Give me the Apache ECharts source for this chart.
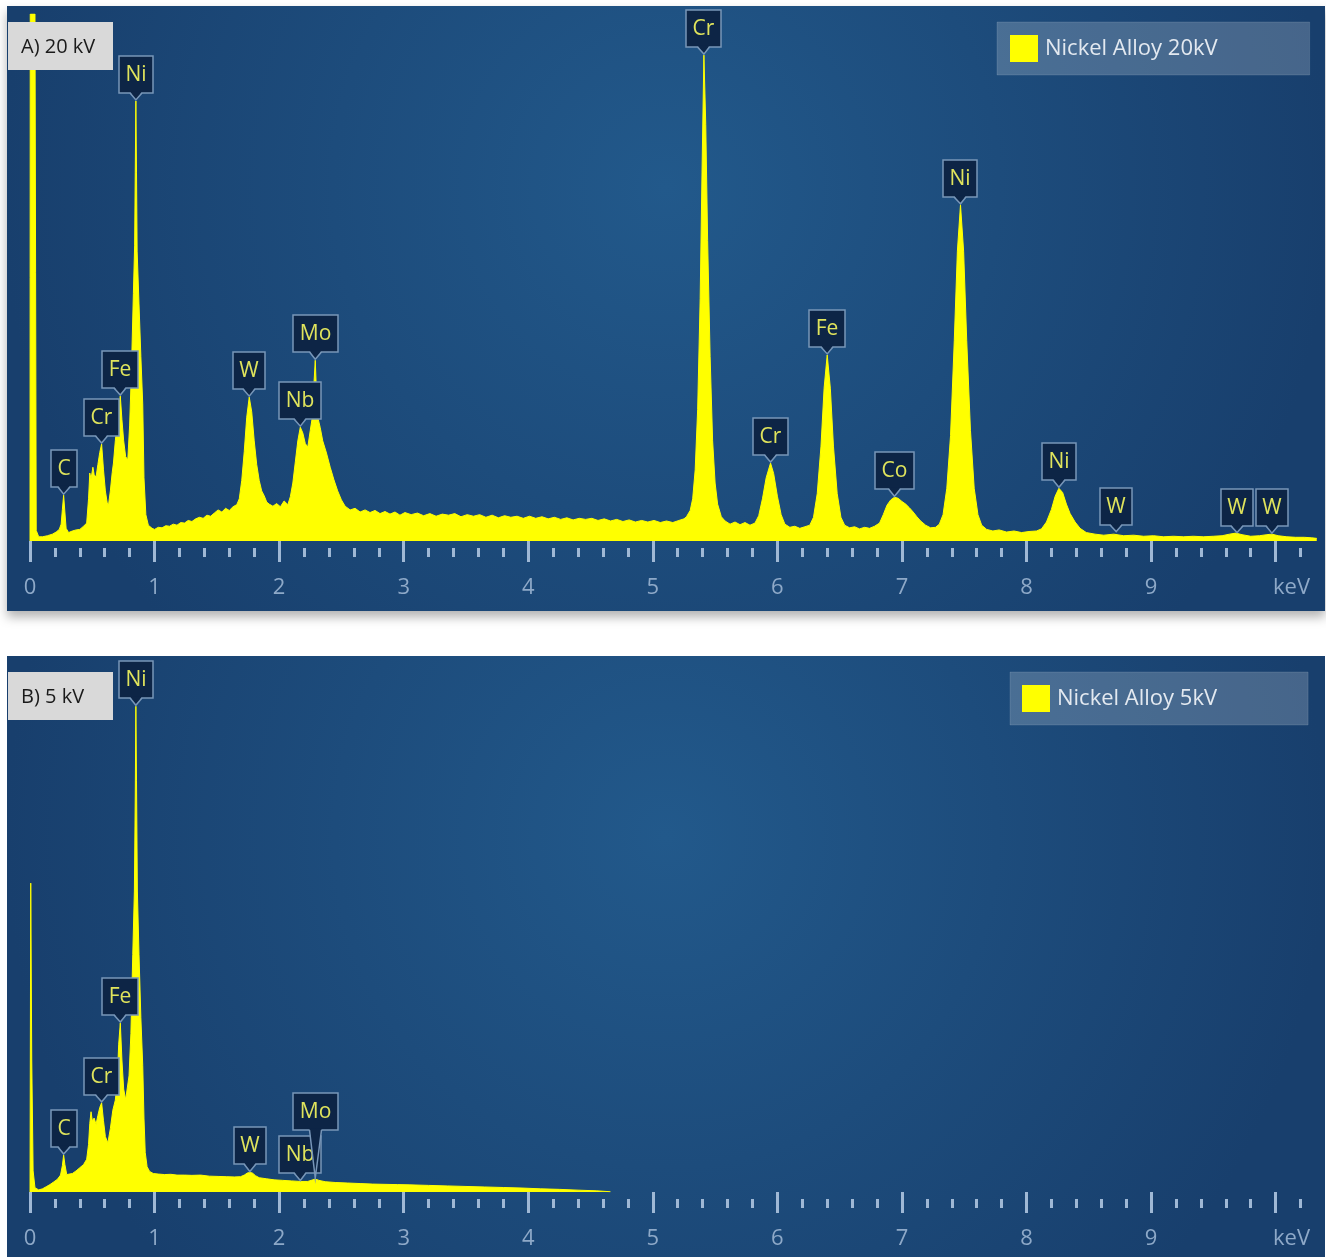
<!DOCTYPE html>
<html>
<head>
<meta charset="utf-8">
<script src="https://cdn.jsdelivr.net/npm/echarts@6/dist/echarts.min.js"></script>
<style>
  html, body { margin: 0; padding: 0; background: #ffffff; }
  #chart { width: 1326px; height: 1257px; }
</style>
</head>
<body>
<div id="chart"></div>
<script>
// ---------------- DATA ----------------
// Energy axis (keV)
const majorTicks = [0, 1, 2, 3, 4, 5, 6, 7, 8, 9, 10];
const tickLabels = [0, 1, 2, 3, 4, 5, 6, 7, 8, 9];
const energyUnit = 'keV';

const seriesNameA = 'Nickel Alloy 20kV';
const seriesNameB = 'Nickel Alloy 5kV';
const panelTagA = 'A) 20 kV';
const panelTagB = 'B) 5 kV';

// Spectrum A (20 kV): [keV, relative counts %]
const spectrumA = [
  [0.000, 0], [0.002, 100], [0.040, 100], [0.050, 2.0], [0.07, 0.8], [0.10, 0.8], [0.14, 1.0], [0.18, 1.3],
  [0.21, 1.7], [0.235, 2.2], [0.25, 3.2], [0.26, 6.0], [0.27, 8.7], [0.28, 5.5], [0.29, 2.4], [0.31, 1.6],
  [0.34, 1.9], [0.37, 2.1], [0.40, 2.2], [0.43, 2.8], [0.455, 3.4], [0.47, 8.0], [0.48, 12.9], [0.49, 11.8],
  [0.505, 14.0], [0.515, 12.6], [0.53, 12.1], [0.545, 14.5], [0.56, 16.8], [0.575, 18.4], [0.59, 13.5],
  [0.605, 9.5], [0.62, 7.2], [0.63, 6.8], [0.645, 9.5], [0.66, 13.0], [0.67, 14.8], [0.685, 19.0],
  [0.70, 22.5], [0.712, 25.5], [0.725, 27.5], [0.738, 23.0], [0.752, 19.0], [0.768, 16.0], [0.785, 15.4],
  [0.80, 22.0], [0.815, 33.0], [0.83, 47.0], [0.84, 56.0], [0.845, 70.0], [0.85, 83.5], [0.855, 70.0],
  [0.86, 55.0], [0.875, 45.0], [0.89, 35.0], [0.905, 26.0], [0.915, 12.0], [0.93, 5.0], [0.95, 3.0],
  [0.98, 2.4], [1.00, 2.2], [1.03, 2.6], [1.06, 2.5], [1.09, 2.9], [1.12, 2.8], [1.15, 3.2], [1.18, 3.0],
  [1.21, 3.5], [1.24, 3.4], [1.27, 3.9], [1.30, 3.7], [1.33, 4.2], [1.36, 4.5], [1.39, 4.3], [1.42, 4.9],
  [1.45, 4.7], [1.48, 5.3], [1.51, 5.9], [1.54, 5.5], [1.57, 6.2], [1.60, 5.8], [1.63, 6.5], [1.66, 6.9],
  [1.68, 8.0], [1.70, 11.5], [1.72, 17.0], [1.74, 23.5], [1.76, 27.3], [1.78, 24.5], [1.80, 19.0],
  [1.82, 14.5], [1.84, 11.5], [1.86, 9.5], [1.88, 8.6], [1.90, 7.4], [1.92, 7.0], [1.95, 6.6], [1.98, 7.1],
  [2.01, 6.5], [2.04, 7.6], [2.07, 6.9], [2.09, 8.4], [2.11, 11.0], [2.13, 15.0], [2.15, 19.0], [2.17, 21.6],
  [2.19, 20.5], [2.21, 18.5], [2.23, 17.8], [2.25, 21.0], [2.27, 24.0], [2.28, 30.0], [2.29, 34.3],
  [2.30, 28.0], [2.31, 23.5], [2.33, 21.5], [2.35, 19.0], [2.38, 16.7], [2.41, 14.0], [2.44, 11.6],
  [2.47, 9.5], [2.50, 7.8], [2.53, 6.6], [2.57, 5.9], [2.61, 6.2], [2.65, 5.5], [2.69, 5.9], [2.73, 5.4],
  [2.77, 5.8], [2.81, 5.2], [2.85, 5.6], [2.89, 5.1], [2.93, 5.5], [2.97, 4.9], [3.01, 5.4], [3.06, 5.0],
  [3.11, 5.3], [3.16, 4.8], [3.21, 5.2], [3.26, 4.7], [3.31, 5.1], [3.36, 4.9], [3.41, 5.2], [3.46, 4.6],
  [3.51, 5.0], [3.56, 4.7], [3.61, 5.0], [3.66, 4.5], [3.71, 4.9], [3.76, 4.4], [3.81, 4.8], [3.86, 4.5],
  [3.91, 4.7], [3.96, 4.3], [4.01, 4.7], [4.06, 4.3], [4.11, 4.6], [4.16, 4.2], [4.21, 4.5], [4.26, 4.1],
  [4.31, 4.4], [4.36, 4.0], [4.41, 4.3], [4.46, 4.1], [4.51, 4.3], [4.56, 3.9], [4.61, 4.2], [4.66, 3.8],
  [4.71, 4.1], [4.76, 3.7], [4.81, 4.0], [4.86, 3.6], [4.91, 3.9], [4.96, 3.6], [5.01, 3.9], [5.06, 3.5],
  [5.11, 3.8], [5.16, 3.5], [5.21, 3.9], [5.25, 4.2],
  [5.27, 4.6], [5.30, 5.8], [5.32, 8.0], [5.34, 13.5], [5.36, 25.0], [5.38, 46.0], [5.395, 70.0],
  [5.41, 92.2], [5.425, 79.0], [5.44, 57.0], [5.46, 35.0], [5.48, 19.0], [5.50, 11.0], [5.52, 7.0],
  [5.55, 4.6], [5.58, 3.8], [5.62, 3.2], [5.66, 3.6], [5.70, 3.1], [5.74, 3.5], [5.78, 3.0], [5.82, 3.4],
  [5.85, 4.8], [5.88, 8.0], [5.91, 12.0], [5.945, 14.8], [5.97, 12.8], [6.00, 8.5], [6.03, 5.0],
  [6.06, 3.2], [6.10, 2.6], [6.14, 2.8], [6.18, 2.4], [6.22, 2.7], [6.26, 3.0],
  [6.29, 4.5], [6.32, 9.0], [6.35, 18.0], [6.375, 29.0], [6.40, 35.3], [6.425, 29.0], [6.45, 18.0],
  [6.48, 9.0], [6.51, 4.5], [6.54, 3.0], [6.58, 2.5], [6.62, 2.7], [6.66, 2.3], [6.70, 2.6], [6.74, 2.4],
  [6.78, 2.8], [6.82, 3.4],
  [6.85, 5.0], [6.88, 6.8], [6.91, 7.8], [6.94, 8.3], [6.97, 8.1], [7.00, 7.5], [7.03, 7.0], [7.06, 6.3],
  [7.09, 5.5], [7.12, 4.6], [7.15, 3.8], [7.19, 3.0], [7.23, 2.5], [7.27, 2.6], [7.30, 3.2],
  [7.33, 5.0], [7.36, 10.0], [7.39, 20.0], [7.42, 38.0], [7.445, 55.0], [7.47, 63.8], [7.495, 55.0],
  [7.52, 38.0], [7.55, 21.0], [7.58, 10.0], [7.61, 5.0], [7.64, 3.0], [7.68, 2.2], [7.73, 1.9],
  [7.78, 2.1], [7.84, 1.7], [7.90, 1.9], [7.96, 1.6], [8.02, 1.8], [8.08, 1.9], [8.12, 2.3],
  [8.16, 3.6], [8.20, 6.0], [8.23, 8.5], [8.26, 10.0], [8.29, 9.2], [8.32, 7.0], [8.35, 5.2], [8.39, 3.6],
  [8.43, 2.4], [8.48, 1.6], [8.55, 1.3], [8.62, 1.1], [8.70, 1.3], [8.78, 1.0], [8.86, 1.1], [8.94, 0.9],
  [9.02, 1.0], [9.10, 0.8], [9.18, 0.9], [9.26, 0.8], [9.34, 0.9], [9.42, 0.8], [9.50, 0.9], [9.57, 1.0],
  [9.63, 1.3], [9.68, 1.5], [9.73, 1.2], [9.80, 0.9], [9.87, 1.0], [9.93, 1.2], [9.97, 1.3], [10.02, 1.0],
  [10.09, 0.8], [10.16, 0.7], [10.23, 0.7], [10.29, 0.6], [10.33, 0.5]
];

// Spectrum B (5 kV): [keV, relative counts %]
const spectrumB = [
  [0.000, 0], [0.006, 58.5], [0.014, 25.0], [0.025, 4.0], [0.04, 0.8], [0.07, 0.4], [0.10, 0.6], [0.13, 1.0],
  [0.16, 1.4], [0.19, 1.9], [0.22, 2.4], [0.245, 3.2], [0.26, 5.0], [0.27, 7.0], [0.28, 5.2], [0.295, 3.3],
  [0.31, 3.0], [0.34, 3.5], [0.37, 4.0], [0.40, 4.6], [0.43, 5.2], [0.455, 6.2], [0.47, 9.0], [0.48, 13.0],
  [0.49, 15.2], [0.50, 13.5], [0.515, 14.0], [0.53, 12.8], [0.545, 14.5], [0.56, 16.0], [0.575, 16.9],
  [0.59, 13.5], [0.605, 10.5], [0.625, 9.3], [0.645, 12.0], [0.665, 15.5], [0.685, 17.4], [0.70, 21.0],
  [0.712, 28.0], [0.725, 32.0], [0.738, 25.0], [0.752, 19.5], [0.768, 17.5], [0.782, 17.4], [0.795, 22.0],
  [0.81, 30.0], [0.825, 45.0], [0.838, 57.0], [0.845, 75.0], [0.85, 92.0], [0.855, 78.0], [0.862, 57.0],
  [0.875, 45.0], [0.89, 33.0], [0.905, 24.0], [0.915, 14.0], [0.925, 7.5], [0.94, 4.8], [0.96, 3.9],
  [0.99, 3.5], [1.03, 3.4], [1.08, 3.3], [1.13, 3.35], [1.18, 3.2], [1.24, 3.2], [1.30, 3.15], [1.37, 3.2],
  [1.44, 3.0], [1.51, 2.95], [1.58, 2.9], [1.64, 2.85], [1.69, 2.9], [1.72, 3.2], [1.745, 3.6],
  [1.765, 3.7], [1.785, 3.6], [1.81, 3.1], [1.84, 2.7], [1.90, 2.5], [1.96, 2.3], [2.03, 2.2], [2.10, 2.1],
  [2.17, 2.0], [2.23, 2.0], [2.27, 2.3], [2.29, 2.45], [2.32, 2.2], [2.37, 1.95], [2.45, 1.8], [2.55, 1.7],
  [2.65, 1.6], [2.75, 1.5], [2.85, 1.45], [2.95, 1.4], [3.05, 1.35], [3.20, 1.25], [3.35, 1.15],
  [3.50, 1.05], [3.65, 0.95], [3.80, 0.85], [3.95, 0.75], [4.10, 0.6], [4.25, 0.5], [4.40, 0.35],
  [4.55, 0.22], [4.66, 0.05]
];

// Peak identification labels: [element, keV, peak height %]
const peaksA = [
  ['C', 0.27, 8.7], ['Cr', 0.575, 18.4], ['Fe', 0.725, 27.5], ['Ni', 0.85, 83.5],
  ['W', 1.76, 27.3], ['Nb', 2.17, 21.6], ['Mo', 2.29, 34.3],
  ['Cr', 5.41, 92.2], ['Cr', 5.945, 14.8], ['Fe', 6.40, 35.3], ['Co', 6.94, 8.3],
  ['Ni', 7.47, 63.8], ['Ni', 8.26, 10.0], ['W', 8.72, 1.6], ['W', 9.69, 1.4], ['W', 9.97, 1.3]
];
const peaksB = [
  ['C', 0.27, 7.0], ['Cr', 0.575, 16.9], ['Fe', 0.725, 32.0], ['Ni', 0.85, 92.0],
  ['W', 1.765, 3.7], ['Nb', 2.17, 2.0], ['Mo', 2.29, 2.45]
];

// ---------------- STYLE / LAYOUT ----------------
const YELLOW = '#ffff00';
const TICK_COLOR = '#9fb8d5';
const LABEL_COLOR = '#8ea9c8';
const FONT = '"Open Sans", "Noto Sans", "DejaVu Sans", sans-serif';
const labelFont = '21px ' + FONT;
const measureCtx = document.createElement('canvas').getContext('2d');
measureCtx.font = labelFont;

const minorTicks = [];
majorTicks.forEach(function (m) {
  for (let k = 1; k <= 4; k++) {
    const v = Math.round((m + k * 0.2) * 10) / 10;
    if (v < 10.34) minorTicks.push(v);
  }
});

function makeLabelRenderer(labels) {
  let placed = [];
  return function (params, api) {
    if (params.dataIndex === 0) placed = [];
    const name = labels[params.dataIndex][0];
    const tip = api.coord([api.value(0), api.value(1)]);
    const tw = measureCtx.measureText(name).width;
    const w = Math.round(tw + 13), h = 37, ptr = 8;
    const x = Math.round(tip[0] - w / 2);
    let bottom = Math.round(tip[1] - ptr);
    let moved = true, guard = 0;
    while (moved && guard++ < 20) {
      moved = false;
      for (const r of placed) {
        if (x < r.x + r.w - 3 && x + w > r.x + 3 && bottom - h < r.y + r.h - 2 && bottom > r.y + 2) {
          bottom = r.y - 6; moved = true;
        }
      }
    }
    const y = bottom - h;
    placed.push({ x: x, y: y, w: w, h: h });
    const cx = x + w / 2;
    return {
      type: 'group',
      children: [
        { type: 'rect', shape: { x: x, y: y, width: w, height: h },
          style: { fill: '#0d2546', stroke: '#7896b8', lineWidth: 1.5 } },
        { type: 'polygon', shape: { points: [[cx - 6, bottom - 1.5], [cx + 6, bottom - 1.5], [tip[0], tip[1] - 1]] },
          style: { fill: '#0d2546' } },
        { type: 'polyline', shape: { points: [[cx - 6, bottom], [tip[0], tip[1] - 1], [cx + 6, bottom]] },
          style: { stroke: '#7896b8', lineWidth: 1.5, fill: null } },
        { type: 'text', style: { text: name, x: cx, y: y + h / 2 + 1, align: 'center', verticalAlign: 'middle',
          font: labelFont, fill: '#e0e45c' } }
      ]
    };
  };
}

function panelFill() {
  return new echarts.graphic.RadialGradient(0.5, 0.3, 1.1, [
    { offset: 0, color: '#22598b' },
    { offset: 1, color: '#183f6d' }
  ]);
}

function mainAxis(gridIndex) {
  return {
    type: 'value', gridIndex: gridIndex, min: 0, max: 10.34, position: 'bottom', offset: 4,
    axisLine: { show: false }, splitLine: { show: false },
    axisTick: { show: true, customValues: majorTicks, length: 21, lineStyle: { color: TICK_COLOR, width: 3 } },
    axisLabel: { show: true, customValues: tickLabels, margin: 32, color: LABEL_COLOR, fontSize: 22, fontFamily: FONT },
    name: energyUnit, nameLocation: 'end', nameGap: -8,
    nameTextStyle: { color: LABEL_COLOR, fontSize: 22, fontFamily: FONT, align: 'right', verticalAlign: 'top', padding: [36, 0, 0, 0] }
  };
}
function minorAxis(gridIndex) {
  return {
    type: 'value', gridIndex: gridIndex, min: 0, max: 10.34, position: 'bottom', offset: 7,
    axisLine: { show: false }, splitLine: { show: false }, axisLabel: { show: false },
    axisTick: { show: true, customValues: minorTicks, length: 9, lineStyle: { color: TICK_COLOR, width: 3 } }
  };
}

const chart = echarts.init(document.getElementById('chart'), null, { renderer: 'canvas' });

const option = {
  animation: false,
  backgroundColor: '#ffffff',
  grid: [
    { left: 30, top: 14, width: 1288, height: 527 },
    { left: 30, top: 664, width: 1288, height: 528 }
  ],
  xAxis: [mainAxis(0), minorAxis(0), mainAxis(1), minorAxis(1)],
  yAxis: [
    { type: 'value', gridIndex: 0, min: 0, max: 100, show: false },
    { type: 'value', gridIndex: 1, min: 0, max: 100, show: false }
  ],
  legend: [
    { data: [seriesNameA], left: 997, top: 22, orient: 'horizontal', icon: 'rect', itemWidth: 28, itemHeight: 27,
      itemGap: 10, padding: [13, 92, 13, 13], backgroundColor: 'rgba(255,255,255,0.2)',
      borderColor: 'rgba(255,255,255,0.12)', borderWidth: 1, selectedMode: false,
      textStyle: { color: '#e3e9f0', fontSize: 22, fontFamily: FONT, padding: [0, 0, 0, 2] } },
    { data: [seriesNameB], left: 1010, top: 672, orient: 'horizontal', icon: 'rect', itemWidth: 28, itemHeight: 27,
      itemGap: 10, padding: [13, 91, 13, 12], backgroundColor: 'rgba(255,255,255,0.2)',
      borderColor: 'rgba(255,255,255,0.12)', borderWidth: 1, selectedMode: false,
      textStyle: { color: '#e3e9f0', fontSize: 22, fontFamily: FONT, padding: [0, 0, 0, 2] } }
  ],
  graphic: {
    elements: [
      { type: 'rect', z: -100, shape: { x: 7, y: 6, width: 1318, height: 605 },
        style: { fill: panelFill(), shadowBlur: 10, shadowOffsetY: 6, shadowColor: 'rgba(0,0,0,0.3)' } },
      { type: 'rect', z: -100, shape: { x: 7, y: 656, width: 1318, height: 601 },
        style: { fill: panelFill() } },
      { type: 'rect', z: 100, shape: { x: 8, y: 22, width: 105, height: 48 }, style: { fill: '#d9d9d9' } },
      { type: 'text', z: 101, style: { text: panelTagA, x: 21, y: 47, verticalAlign: 'middle', font: '20px ' + FONT, fill: '#1a1a1a' } },
      { type: 'rect', z: 100, shape: { x: 8, y: 672, width: 105, height: 48 }, style: { fill: '#d9d9d9' } },
      { type: 'text', z: 101, style: { text: panelTagB, x: 21, y: 697, verticalAlign: 'middle', font: '20px ' + FONT, fill: '#1a1a1a' } }
    ]
  },
  series: [
    { name: seriesNameA, type: 'line', xAxisIndex: 0, yAxisIndex: 0, data: spectrumA, showSymbol: false,
      symbol: 'none', itemStyle: { color: YELLOW }, lineStyle: { color: YELLOW, width: 1 },
      areaStyle: { color: YELLOW, opacity: 1 }, z: 2 },
    { name: seriesNameB, type: 'line', xAxisIndex: 2, yAxisIndex: 1, data: spectrumB, showSymbol: false,
      symbol: 'none', itemStyle: { color: YELLOW }, lineStyle: { color: YELLOW, width: 1 },
      areaStyle: { color: YELLOW, opacity: 1 }, z: 2 },
    { name: 'peaksA', type: 'custom', xAxisIndex: 0, yAxisIndex: 0, clip: false, z: 5,
      data: peaksA.map(function (p) { return [p[1], p[2]]; }), renderItem: makeLabelRenderer(peaksA) },
    { name: 'peaksB', type: 'custom', xAxisIndex: 2, yAxisIndex: 1, clip: false, z: 5,
      data: peaksB.map(function (p) { return [p[1], p[2]]; }), renderItem: makeLabelRenderer(peaksB) }
  ]
};
chart.setOption(option);
</script>
</body>
</html>
